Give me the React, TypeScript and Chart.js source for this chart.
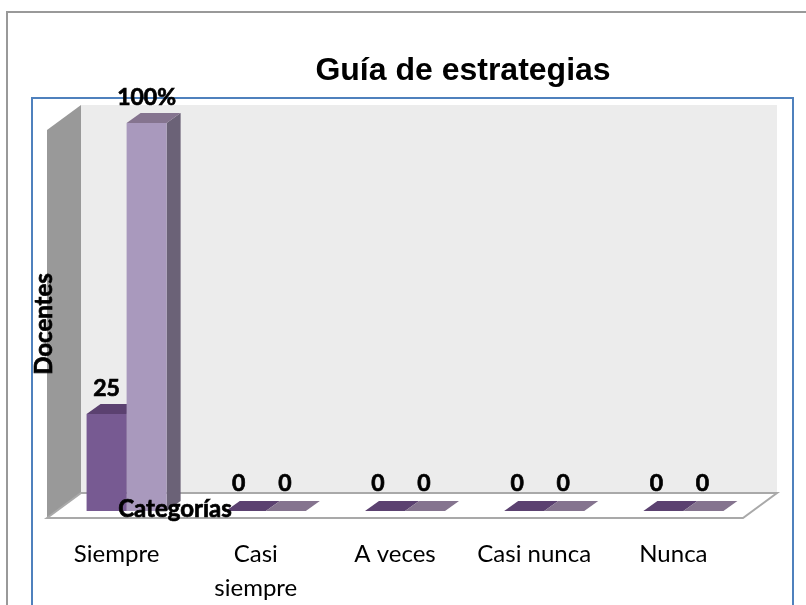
import React, { useEffect, useRef } from "react";
import { Chart, registerables } from "chart.js";

Chart.register(...registerables);

const categories: (string | string[])[] = ["Siempre", ["Casi", "siempre"], "A veces", "Casi nunca", "Nunca"];
const docentes = [25, 0, 0, 0, 0];
const porcentaje = [100, 0, 0, 0, 0];
const chartTitle = "Guía de estrategias";
const yTitle = "Docentes";
const xTitle = "Categorías";

const FRONT = { dx: -10, dy: 7 };
const BACK = { dx: 24, dy: -18 };
const BAR_DEPTH = { dx: 14, dy: -10 };
const faces = [
  { top: "#5b4170", side: "#5b4170" },
  { top: "#85748f", side: "#6b6277" },
];

function poly(ctx: CanvasRenderingContext2D, pts: number[][], fill?: string, stroke?: string, lw = 1) {
  ctx.beginPath();
  pts.forEach((p, i) => (i ? ctx.lineTo(p[0], p[1]) : ctx.moveTo(p[0], p[1])));
  ctx.closePath();
  if (fill) {
    ctx.fillStyle = fill;
    ctx.fill();
  }
  if (stroke) {
    ctx.strokeStyle = stroke;
    ctx.lineWidth = lw;
    ctx.stroke();
  }
}

function heavyText(ctx: CanvasRenderingContext2D, s: string, x: number, y: number) {
  ctx.fillText(s, x, y);
  ctx.strokeText(s, x, y);
}

const scene3d = {
  id: "scene3d",
  afterLayout(chart: any) {
    // the title is centred on the back wall rather than the whole frame
    if (chart.titleBlock) {
      chart.titleBlock.left += 58;
      chart.titleBlock.right += 58;
    }
  },
  beforeDatasetsDraw(chart: any) {
    const { ctx, chartArea: a } = chart;
    ctx.save();
    const fl = a.left + FRONT.dx, fr = a.right + FRONT.dx, ft = a.top + FRONT.dy, fb = a.bottom + FRONT.dy;
    const bl = a.left + BACK.dx, br = a.right + BACK.dx, bt = a.top + BACK.dy, bb = a.bottom + BACK.dy;
    poly(ctx, [[bl, bt], [br, bt], [br, bb], [bl, bb]], "#ececec");
    poly(ctx, [[fl, ft], [bl, bt], [bl, bb], [fl, fb]], "#999999");
    poly(ctx, [[fl, fb], [bl, bb], [br, bb], [fr, fb]], "#ffffff", "#a9a9a9", 2);
    chart.data.datasets.forEach((_: any, i: number) => {
      const c = faces[i];
      chart.getDatasetMeta(i).data.forEach((b: any) => {
        const l = b.x - b.width / 2, r = b.x + b.width / 2, t = b.y, base = b.base;
        const { dx, dy } = BAR_DEPTH;
        poly(ctx, [[r, t], [r + dx, t + dy], [r + dx, base + dy], [r, base]], c.side);
        poly(ctx, [[l, t], [l + dx, t + dy], [r + dx, t + dy], [r, t]], c.top);
      });
    });
    ctx.restore();
  },
  afterDatasetsDraw(chart: any) {
    const { ctx } = chart;
    ctx.save();
    ctx.fillStyle = "#000";
    ctx.strokeStyle = "#000";
    ctx.lineWidth = 0.7;
    ctx.textAlign = "center";
    ctx.textBaseline = "middle";
    ctx.font = "bold 23px Lato";
    chart.data.datasets.forEach((ds: any, i: number) => {
      chart.getDatasetMeta(i).data.forEach((b: any, j: number) => {
        const v = ds.data[j];
        const nudgeX = v === 0 ? (i === 0 ? -7 : -1) : 0;
        const nudgeY = v === 0 ? -27 : -25;
        heavyText(ctx, `${v}${i === 1 && v !== 0 ? "%" : ""}`, b.x + nudgeX, b.y + nudgeY);
      });
    });
    ctx.font = "bold 24px Lato";
    heavyText(ctx, xTitle, chart.chartArea.left + 118, chart.chartArea.bottom - 2);
    ctx.translate(chart.chartArea.left - 13, chart.chartArea.top + 201);
    ctx.rotate(-Math.PI / 2);
    heavyText(ctx, yTitle, 0, 0);
    ctx.restore();
  },
};

export default function App() {
  const ref = useRef<HTMLCanvasElement>(null);
  useEffect(() => {
    const chart = new Chart(ref.current!, {
      type: "bar",
      data: {
        labels: categories as any,
        datasets: [
          { label: "Docentes", data: docentes, backgroundColor: "#775a92", borderWidth: 0, categoryPercentage: 0.575, barPercentage: 1 },
          { label: "Porcentaje", data: porcentaje, backgroundColor: "#a999bd", borderWidth: 0, categoryPercentage: 0.575, barPercentage: 1 },
        ],
      },
      options: {
        animation: false,
        responsive: false,
        layout: { padding: { left: 57, right: 53, top: 52, bottom: 0 } },
        plugins: {
          legend: { display: false },
          tooltip: { enabled: false },
          title: {
            display: true,
            text: chartTitle,
            color: "#000",
            font: { family: "Liberation Sans", size: 32, weight: "bold", lineHeight: 1.2 },
            padding: { top: 0, bottom: 32.6 },
          },
        },
        scales: {
          x: {
            grid: { display: false },
            border: { display: false },
            afterFit(s: any) {
              s.height = 94;
            },
            ticks: {
              color: "#000",
              maxRotation: 0,
              autoSkip: false,
              labelOffset: -10,
              padding: 18,
              font: { family: "Lato", size: 24, lineHeight: 1.42 },
            },
          },
          y: { display: false, min: 0, max: 100 },
        },
      } as any,
      plugins: [scene3d],
    });
    return () => chart.destroy();
  }, []);
  return (
    <div style={{ position: "fixed", left: 0, top: 0, width: 806, height: 605, overflow: "hidden", background: "#fff" }}>
      <div style={{ position: "absolute", left: 6, top: 11, width: 840, height: 640, border: "2px solid #999999" }} />
      <div style={{ position: "absolute", left: 31, top: 97, width: 759, height: 600, border: "2px solid #4f81bd" }} />
      <canvas ref={ref} width={806} height={605} style={{ position: "absolute", left: 0, top: 0 }} />
    </div>
  );
}
